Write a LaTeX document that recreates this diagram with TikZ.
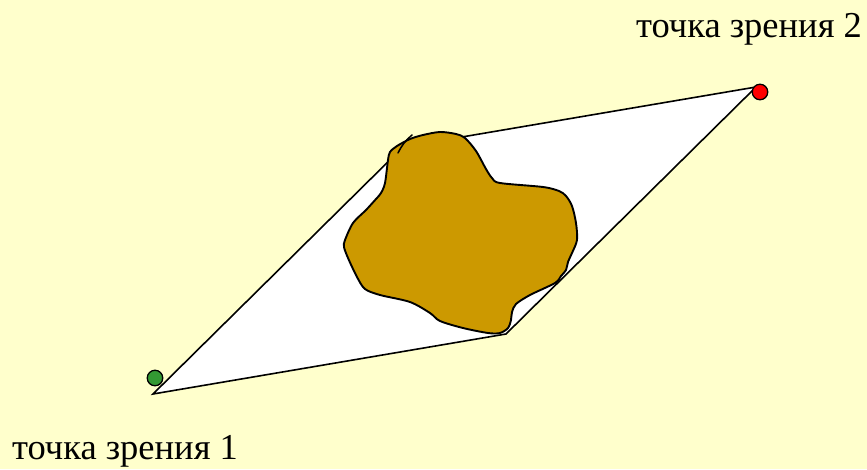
\documentclass[tikz,border=0pt]{standalone}
\usepackage{fontspec}
\setmainfont{Liberation Serif}
\definecolor{bgyellow}{RGB}{255,255,204}
\definecolor{blobfill}{RGB}{204,153,0}
\definecolor{dotgreen}{RGB}{51,153,51}
\definecolor{dotred}{RGB}{255,0,0}
\tikzset{
  edgeline/.style={draw=black, line width=1.6pt},
  blobline/.style={draw=black, line width=1.9pt, fill=blobfill, line join=round},
  viewdot/.style={circle, draw=black, line width=1.3pt, minimum size=15.5pt, inner sep=0pt},
  label/.style={font=\fontsize{36.5}{42}\selectfont, inner sep=0pt}
}
\begin{document}
\begin{tikzpicture}[x=1pt,y=-1pt]
\useasboundingbox (0,0) rectangle (867,469);
\fill[bgyellow] (0,0) rectangle (867,469);
\coordinate (A) at (153,394);
\coordinate (B) at (506,334);
\coordinate (C) at (756,87);
\coordinate (D) at (403,147);
\filldraw[fill=white, edgeline, line join=miter] (A) -- (B) -- (C) -- (D) -- cycle;
\draw[blobline] plot[smooth cycle, tension=0.5] coordinates {
(390,152) (388,160) (385,183) (381,193) (376,199) (366,210) (353,223) (345,240) (344,247)
(348,258) (357,277) (365,289) (380,295) (410,302) (430,313) (440,321) (463,328) (488,333)
(500,333) (508,328) (511,320) (512,312) (516,304) (530,295) (555,283) (561,276) (566,270)
(568,262) (572,253) (577,240) (576,223) (572,206) (566,196) (559,191) (543,187) (500,183)
(492,178) (486,169) (476,151) (465,138) (456,134) (440,132) (423,135) (410,139) (397,146)};
\draw[black, line width=1.5pt, line cap=round] (398,153) .. controls (402,145) and (406,140) .. (412,135);
\node[viewdot, fill=dotgreen] (p1) at (155,378) {};
\node[viewdot, fill=dotred] (p2) at (760,92) {};
\node[label, anchor=base west] (t1) at (12,459.5) {точка зрения 1};
\node[label, anchor=base west] (t2) at (636,37.3) {точка зрения 2};
\end{tikzpicture}
\end{document}
